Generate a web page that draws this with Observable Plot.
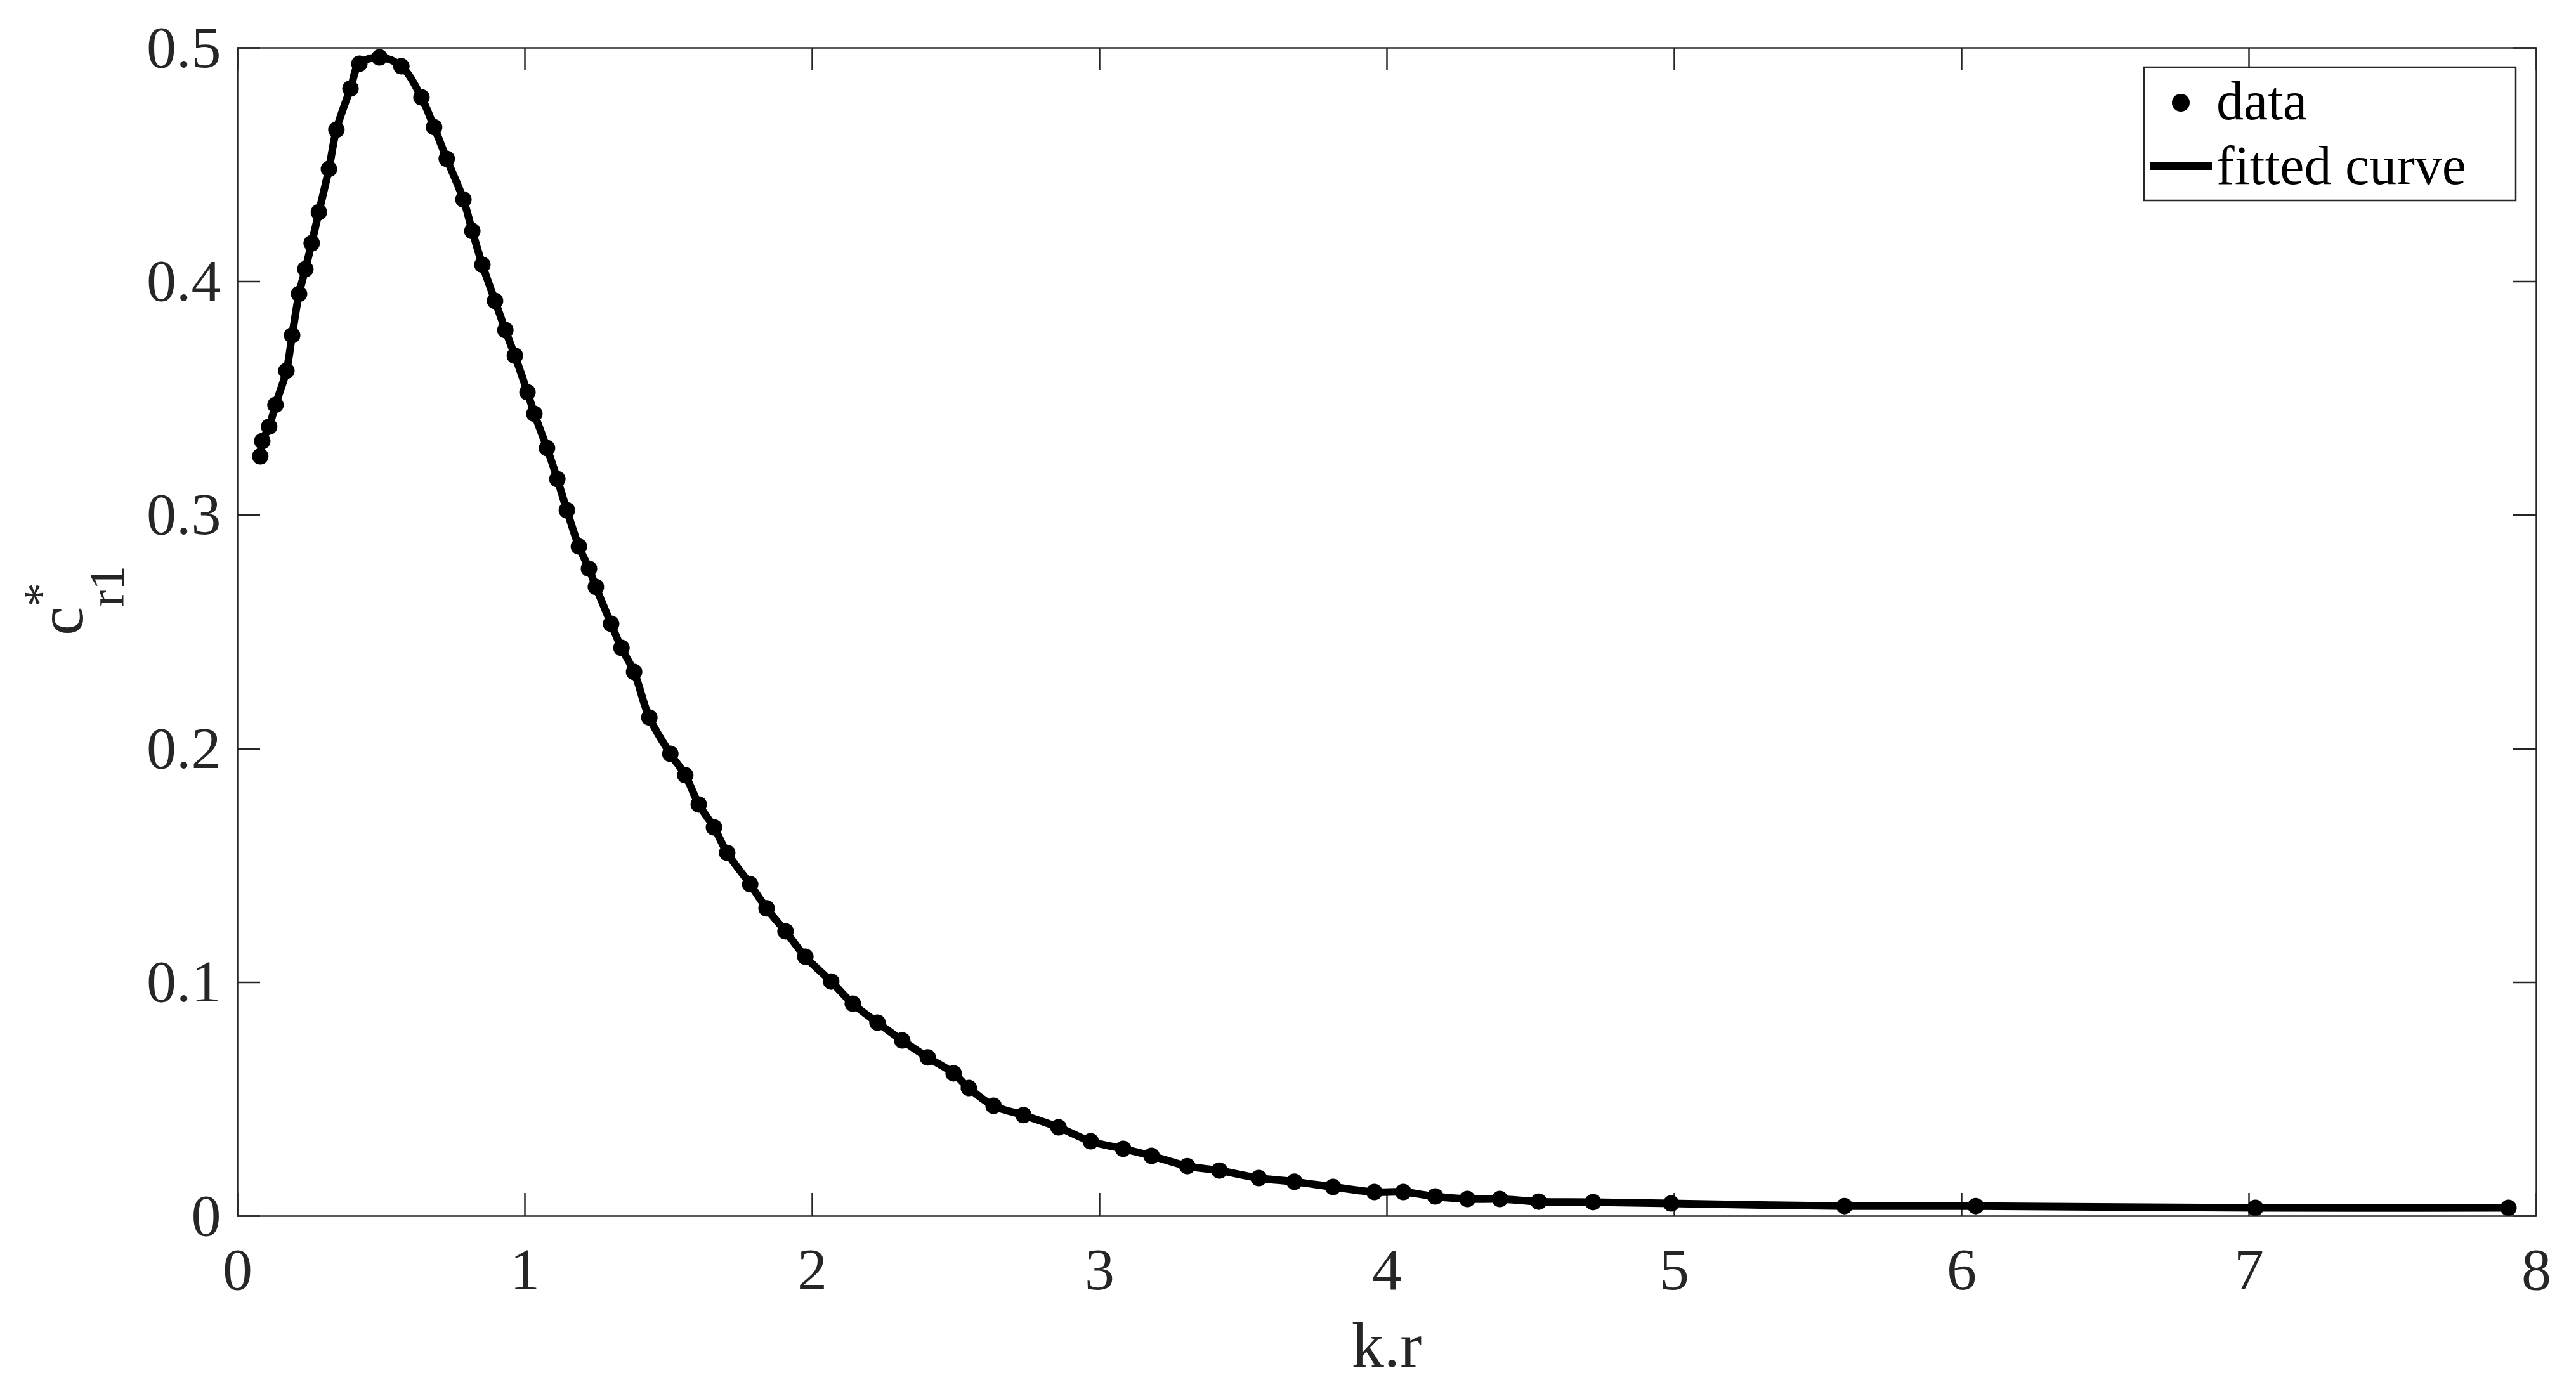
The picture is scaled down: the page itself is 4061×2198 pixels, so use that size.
<!DOCTYPE html>
<html>
<head>
<meta charset="utf-8">
<script src="https://cdn.jsdelivr.net/npm/d3@7"></script>
<script src="https://cdn.jsdelivr.net/npm/@observablehq/plot@0.6"></script>
<style>
html, body { margin: 0; padding: 0; background: #fff; }
#chart svg { display: block; }
</style>
</head>
<body>
<div id="chart"></div>
<script>
// k.r values of the data points
const kr = [0.079, 0.086, 0.110, 0.132, 0.170, 0.190, 0.214, 0.236, 0.258, 0.283,
            0.318, 0.344, 0.393, 0.424, 0.494, 0.570, 0.640, 0.684, 0.728, 0.786,
            0.817, 0.852, 0.896, 0.932, 0.965, 1.009, 1.033, 1.077, 1.113, 1.146,
            1.188, 1.223, 1.247, 1.300, 1.336, 1.380, 1.433, 1.506, 1.558, 1.605,
            1.658, 1.704, 1.784, 1.841, 1.907, 1.976, 2.066, 2.141, 2.227, 2.313,
            2.402, 2.492, 2.545, 2.631, 2.735, 2.857, 2.969, 3.082, 3.181, 3.305,
            3.417, 3.554, 3.678, 3.812, 3.956, 4.057, 4.168, 4.280, 4.393, 4.528,
            4.717, 4.989, 5.592, 6.049, 7.022, 7.903];
// c*_r1 values of the data points
const cr1 = [0.3252, 0.3317, 0.3379, 0.3472, 0.3618, 0.3770, 0.3947, 0.4053, 0.4164, 0.4297,
             0.4482, 0.4650, 0.4826, 0.4932, 0.4959, 0.4921, 0.4788, 0.4661, 0.4525, 0.4351,
             0.4216, 0.4072, 0.3917, 0.3792, 0.3683, 0.3526, 0.3434, 0.3287, 0.3154, 0.3021,
             0.2866, 0.2771, 0.2693, 0.2535, 0.2432, 0.2329, 0.2134, 0.1979, 0.1887, 0.1762,
             0.1664, 0.1555, 0.1420, 0.1317, 0.1219, 0.1110, 0.1004, 0.0909, 0.0828, 0.0752,
             0.0679, 0.0611, 0.0548, 0.0472, 0.0432, 0.0380, 0.0320, 0.0288, 0.0258, 0.0214,
             0.0195, 0.0163, 0.0147, 0.0125, 0.0103, 0.0103, 0.0084, 0.0073, 0.0073, 0.0062,
             0.0060, 0.0054, 0.0043, 0.0043, 0.0035, 0.0035];
const xTicks = [0, 1, 2, 3, 4, 5, 6, 7, 8];
const yTicks = [0, 0.1, 0.2, 0.3, 0.4, 0.5];
const xLabel = "k.r";
const yLabelMain = "c", yLabelSup = "*", yLabelSub = "r1";
const legendLabels = ["data", "fitted curve"];

const points = kr.map((x, i) => ({x, y: cr1[i]}));

const W = 4061, H = 2198;
const ml = 374, mr = 63, mt = 75, mb = 281;
const pw = W - ml - mr, ph = H - mt - mb;
const ink = "#262626";
const font = '"Times New Roman", "Liberation Serif", serif';
const tickLen = 36, axisW = 2.5;

const chart = Plot.plot({
  width: W, height: H,
  marginLeft: ml, marginRight: mr, marginTop: mt, marginBottom: mb,
  style: {fontFamily: font, background: "#fff", color: ink},
  x: {domain: [0, 8]},
  y: {domain: [0, 0.5]},
  marks: [
    Plot.axisX({ticks: xTicks, tickSize: 0, tickPadding: 49, fontSize: 94, tickFormat: d => String(d), label: null, fill: ink}),
    Plot.axisY({ticks: yTicks, tickSize: 0, tickPadding: 26, fontSize: 94, tickFormat: d => String(d), label: null, fill: ink}),
    Plot.tickX(xTicks, {x: d => d, stroke: ink, strokeWidth: axisW, insetTop: ph - tickLen}),
    Plot.tickX(xTicks, {x: d => d, stroke: ink, strokeWidth: axisW, insetBottom: ph - tickLen}),
    Plot.tickY(yTicks, {y: d => d, stroke: ink, strokeWidth: axisW, insetRight: pw - tickLen}),
    Plot.tickY(yTicks, {y: d => d, stroke: ink, strokeWidth: axisW, insetLeft: pw - tickLen}),
    Plot.line(points, {x: "x", y: "y", stroke: "#000", strokeWidth: 12, curve: "catmull-rom"}),
    Plot.dot(points, {x: "x", y: "y", r: 13, fill: "#000", stroke: "none"}),
    Plot.frame({stroke: ink, strokeWidth: axisW})
  ]
});

const svg = d3.select(chart);

// x label
svg.append("text")
  .attr("x", ml + pw / 2).attr("y", 2155)
  .attr("text-anchor", "middle")
  .attr("font-family", font).attr("font-size", 102).attr("fill", ink)
  .text(xLabel);

// y label c*_r1 (rotated)
const yl = svg.append("text")
  .attr("transform", "translate(130,1002) rotate(-90)")
  .attr("text-anchor", "start")
  .attr("font-family", font).attr("font-size", 102).attr("fill", ink);
yl.append("tspan").text(yLabelMain);
yl.append("tspan").attr("font-size", 76).attr("dy", -40).text(yLabelSup);
yl.append("tspan").attr("font-size", 78).attr("dx", -38).attr("dy", 104).text(yLabelSub);

// legend
const lg = svg.append("g");
lg.append("rect").attr("x", 3380).attr("y", 106).attr("width", 586).attr("height", 210)
  .attr("fill", "#fff").attr("stroke", ink).attr("stroke-width", axisW);
lg.append("circle").attr("cx", 3438).attr("cy", 162).attr("r", 14).attr("fill", "#000");
lg.append("line").attr("x1", 3390).attr("x2", 3487).attr("y1", 262).attr("y2", 262)
  .attr("stroke", "#000").attr("stroke-width", 12);
lg.selectAll("text.lab").data(legendLabels).join("text")
  .attr("class", "lab")
  .attr("x", 3494).attr("y", (d, i) => i === 0 ? 188 : 290)
  .attr("text-anchor", "start")
  .attr("font-family", font).attr("font-size", 86).attr("fill", "#000")
  .text(d => d);

document.getElementById("chart").appendChild(chart);
</script>
</body>
</html>
